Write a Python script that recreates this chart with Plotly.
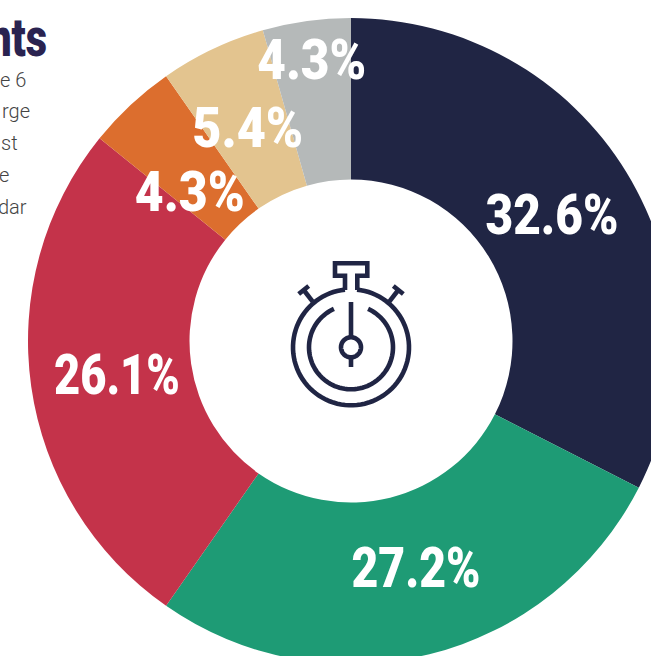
import json

import numpy as np
import plotly.graph_objects as go

labels = ["A", "B", "C", "D", "E", "F"]
shares = [32.5, 27.2, 26.1, 4.5, 5.3, 4.4]
percent_text = ["32.6%", "27.2%", "26.1%", "4.3%", "5.4%", "4.3%"]
colors = ["#202544", "#1e9b75", "#c4334a", "#dc6e2e", "#e3c48f", "#b5b9b9"]
label_pos = [(552, 215), (416, 568), (117, 375), (190, 192), (247, 128), (311, 60)]
label_width = [133, 129, 126, 110, 111, 109]
side_text = ["e 6", "rge", "st", "e", "dar"]
side_right = [28, 32, 20, 11, 29]
side_y = [80, 111, 143, 175, 207]

SIZE = 700  # figure plus grande que la fenetre, le donut est coupe a droite et en bas
NAVY = "#202544"


def px(x):
    return x / SIZE


def py(y):
    return 1 - y / SIZE


def poly(points):
    return "M " + " L ".join(f"{px(x):.5f},{py(y):.5f}" for x, y in points)


def arc(cx, cy, r, start, end):
    # angles en degres depuis le haut, sens horaire
    a = np.radians(np.linspace(start, end, 90))
    return poly(list(zip(cx + r * np.sin(a), cy - r * np.cos(a))))


fig = go.Figure(
    go.Pie(
        labels=labels,
        values=shares,
        marker={"colors": colors, "line": {"width": 0}},
        hole=161.5 / 323,
        sort=False,
        direction="clockwise",
        rotation=0,
        textinfo="none",
        hoverinfo="skip",
        showlegend=False,
        domain={"x": [px(28), px(674)], "y": [py(664), py(18)]},
    )
)

for t, (x, y) in zip(percent_text, label_pos):
    fig.add_annotation(
        x=px(x), y=py(y), xref="paper", yref="paper", text=t, showarrow=False,
        xanchor="center", yanchor="middle",
        font={"family": "Roboto", "size": 56, "color": "white", "weight": 900},
    )

fig.add_annotation(
    x=px(17.5), y=py(38), xref="paper", yref="paper", text="nts", showarrow=False,
    xanchor="center", yanchor="middle",
    font={"family": "Roboto", "size": 53, "color": "#2a2350", "weight": 900},
)
for t, x, y in zip(side_text, side_right, side_y):
    fig.add_annotation(
        x=px(x), y=py(y), xref="paper", yref="paper", text=t, showarrow=False,
        xanchor="right", yanchor="middle",
        font={"family": "Roboto", "size": 20, "color": "#444444", "weight": 300},
    )

# icone chronometre
cx, cy = 351, 347.3
icon = [
    arc(cx, cy, 58, 6, 354),
    arc(cx, cy, 42, 24, 336),
    arc(cx, cy, 10, 0, 360),
    poly([(351, 302), (351, 337)]),
    poly([(351, 357.5), (351, 367)]),
    poly([(345, 290), (345, 275.7), (335, 275.7), (335, 263.3), (367.3, 263.3), (367.3, 275.7), (357.3, 275.7), (357.3, 290)]),
    poly([(389.3, 301.7), (398.3, 290)]),
    poly([(393.3, 286), (403.3, 294)]),
    poly([(312.7, 301.7), (303.7, 290)]),
    poly([(308.7, 286), (298.7, 294)]),
]
for p in icon:
    fig.add_shape(type="path", path=p, xref="paper", yref="paper", line={"color": NAVY, "width": 4.6})

fig.update_layout(
    width=SIZE,
    height=SIZE,
    margin={"l": 0, "r": 0, "t": 0, "b": 0},
    paper_bgcolor="white",
    plot_bgcolor="white",
    hovermode=False,
)

# police etroite absente : on resserre les glyphes au rendu
squeeze = json.dumps(label_width + [59])
post = """
document.body.style.margin='0';
document.documentElement.style.overflow='hidden';
document.body.style.overflow='hidden';
var widths = %s;
document.querySelectorAll('.annotation-text').forEach(function (t, i) {
  if (i < widths.length) {
    t.setAttribute('lengthAdjust', 'spacingAndGlyphs');
    t.setAttribute('textLength', widths[i]);
  }
});
""" % squeeze

fig.write_html("out.html", config={"displayModeBar": False}, post_script=post)
